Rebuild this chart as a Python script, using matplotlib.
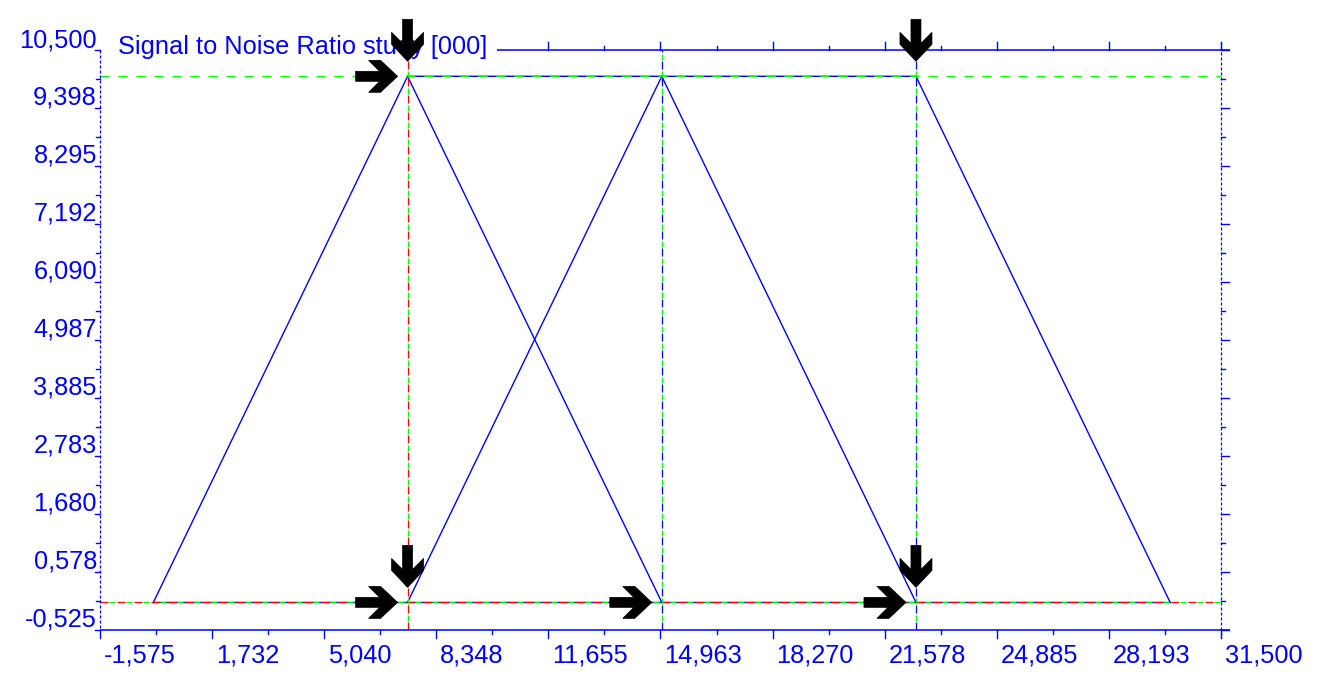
import matplotlib
matplotlib.use('Agg')
import matplotlib.pyplot as plt
from matplotlib.lines import Line2D
from matplotlib.patches import Polygon
import matplotlib.transforms as mtransforms

plt.rcParams['font.family'] = ['Liberation Sans', 'DejaVu Sans']
plt.rcParams['lines.scale_dashes'] = False

# ---------------- data ----------------
title = "Signal to Noise Ratio study [000]"

x_ticks = [-1.575, 1.7325, 5.04, 8.3475, 11.655, 14.9625, 18.27, 21.5775, 24.885, 28.1925, 31.5]
x_tick_labels = ["-1,575", "1,732", "5,040", "8,348", "11,655", "14,963",
                 "18,270", "21,578", "24,885", "28,193", "31,500"]
y_ticks = [-0.525, 0.5775, 1.68, 2.7825, 3.885, 4.9875, 6.09, 7.1925, 8.295, 9.3975, 10.5]
y_tick_labels = ["-0,525", "0,578", "1,680", "2,783", "3,885", "4,987",
                 "6,090", "7,192", "8,295", "9,398", "10,500"]

low_x = [0.0, 7.5, 15.0]
low_y = [0.0, 10.0, 0.0]
mid_x = [7.5, 15.0, 22.5]
mid_y = [0.0, 10.0, 0.0]
high_x = [7.5, 22.5, 30.0]
high_y = [10.0, 10.0, 0.0]
base_x = [0.0, 30.0]
base_y = [0.0, 0.0]

peak_level = 10.0
base_level = 0.0
cursor_red_x = [7.5]
cursor_blue_x = [15.0, 22.5]

down_arrow_pts = [(7.5, 10.0), (22.5, 10.0), (7.5, 0.0), (22.5, 0.0)]
right_arrow_pts = [(7.5, 10.0), (7.5, 0.0), (15.0, 0.0), (22.5, 0.0)]

# ---------------- figure ----------------
W, H = 1321, 680
fig = plt.figure(figsize=(W / 100, H / 100), dpi=100)
L, R, T, B = 100, 1221, 50, 630   # plot frame in pixel columns / rows (rows from top)
ax = fig.add_axes([L / W, (H - B) / H, (R - L) / W, (B - T) / H])
ax.set_xlim(x_ticks[0], x_ticks[-1])
ax.set_ylim(y_ticks[0], y_ticks[-1])
ax.set_axis_off()

BLUE = (0, 0, 1)
GREEN = (0, 1, 0)
RED = (1, 0, 0)
PT = 0.72  # points per pixel
ID = mtransforms.IdentityTransform()

# membership lines
for xs, ys in [(low_x, low_y), (mid_x, mid_y), (high_x, high_y), (base_x, base_y)]:
    ax.plot(xs, ys, color=BLUE, lw=1.0, zorder=2, clip_on=False)

# cursor / level lines
ax.axhline(peak_level, color=GREEN, lw=0.9, ls=(0, (9 * PT, 9 * PT)), zorder=3)
ax.axhline(base_level, color=RED, lw=0.9, ls=(0, (8 * PT, 9 * PT)), zorder=3)
ax.axhline(base_level, color=GREEN, lw=0.9, ls=(8 * PT, (6 * PT, 11 * PT)), zorder=3)
for xv in cursor_red_x:
    ax.axvline(xv, color=RED, lw=0.9, ls=(0, (8 * PT, 9 * PT)), zorder=3)
    ax.axvline(xv, color=GREEN, lw=0.9, ls=(8 * PT, (6 * PT, 11 * PT)), zorder=3)
for xv in cursor_blue_x:
    ax.axvline(xv, color=BLUE, lw=0.9, ls=(0, (8 * PT, 9 * PT)), zorder=3)
    ax.axvline(xv, color=GREEN, lw=0.9, ls=(8 * PT, (6 * PT, 11 * PT)), zorder=3)


def row(r):
    return H - r


def pxline(xs, rows, **kw):
    fig.add_artist(Line2D(xs, [row(r) for r in rows], transform=ID, **kw))


def xpix(v):
    return ax.transData.transform((v, 0))[0]


def ypix_row(v):
    return H - ax.transData.transform((0, v))[1]


# frame
pxline([L, 1230], [B, B], color=BLUE, lw=1.1, solid_capstyle='butt')
pxline([497, 1230], [T, T], color=BLUE, lw=1.1, solid_capstyle='butt')
pxline([L, L], [T, B], color=BLUE, lw=0.9, ls=(0, (3 * PT, 2 * PT)))
pxline([R, R], [42, 638], color=BLUE, lw=0.9, ls=(0, (3 * PT, 2 * PT)))

# x ticks
x_minor = [(a + b) / 2 for a, b in zip(x_ticks[:-1], x_ticks[1:])]
for v in x_ticks:
    xp = xpix(v)
    pxline([xp, xp], [B, B + 8], color=BLUE, lw=1.0)
    if xp >= 497:
        pxline([xp, xp], [T, T - 8], color=BLUE, lw=1.0)
for v in x_minor:
    xp = xpix(v)
    pxline([xp, xp], [B, B + 4], color=BLUE, lw=1.0)
    if xp >= 497:
        pxline([xp, xp], [T, T - 4], color=BLUE, lw=1.0)

# y ticks
y_minor = [(a + b) / 2 for a, b in zip(y_ticks[:-1], y_ticks[1:])]
for v in y_ticks:
    rp = ypix_row(v)
    pxline([L - 5, L], [rp, rp], color=BLUE, lw=1.0)
    pxline([R, R + 8], [rp, rp], color=BLUE, lw=1.0)
for v in y_minor:
    rp = ypix_row(v)
    pxline([L - 4, L], [rp, rp], color=BLUE, lw=1.0)
    pxline([R, R + 4], [rp, rp], color=BLUE, lw=1.0)

# tick labels
FS = 18.3
for v, s in zip(x_ticks, x_tick_labels):
    fig.text(xpix(v) + 4, row(663), s, transform=ID, ha='left', va='baseline',
             color=BLUE, fontsize=FS)
for v, s in zip(y_ticks, y_tick_labels):
    fig.text(97, row(ypix_row(v) - 3), s, transform=ID, ha='right', va='baseline',
             color=BLUE, fontsize=FS)

# title
fig.text(118, row(54), title, transform=ID, ha='left', va='baseline',
         color=BLUE, fontsize=FS, zorder=4)

# arrows (shape in pixels, pointing right, tip at origin)
ARROW = [(0, 0), (-17, 16), (-29, 16), (-18, 5), (-42, 5),
         (-42, -5), (-18, -5), (-29, -16), (-17, -16)]


def add_arrow(x, y, direction, gap):
    if direction == 'right':
        verts = [((a - gap) / 100, c / 100) for a, c in ARROW]
    else:  # down
        verts = [(c / 100, (-a + gap) / 100) for a, c in ARROW]
    tr = fig.dpi_scale_trans + mtransforms.ScaledTranslation(x, y, ax.transData)
    fig.add_artist(Polygon(verts, closed=True, transform=tr, facecolor='black',
                           edgecolor='black', lw=0.5, zorder=6))


for (x, y) in down_arrow_pts:
    add_arrow(x, y, 'down', 15)
for (x, y) in right_arrow_pts:
    add_arrow(x, y, 'right', 10)

fig.savefig('out.png', dpi=100)
